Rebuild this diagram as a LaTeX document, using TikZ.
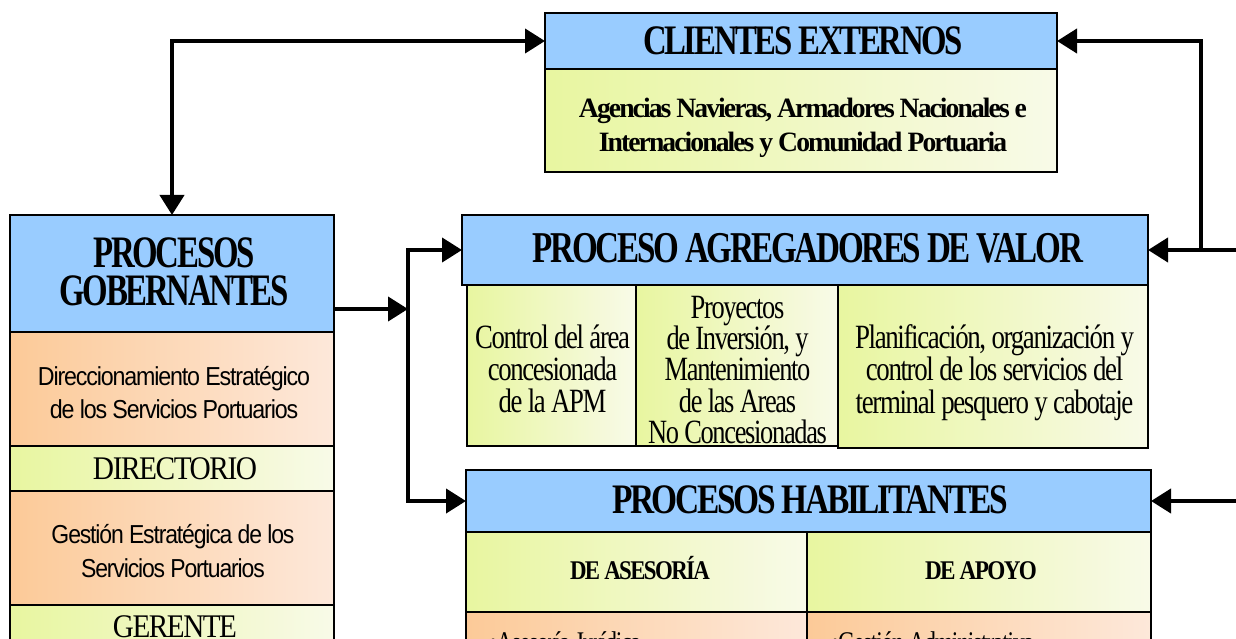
\documentclass[tikz,border=0pt]{standalone}
\usepackage{fontspec}
\usepackage{graphicx}
\setmainfont{Liberation Serif}
\newfontfamily\sansf[LetterSpace=-5]{Liberation Sans}
\newfontfamily\tser[LetterSpace=-5]{Liberation Serif}
\newfontfamily\tserb[LetterSpace=-7]{Liberation Serif}
\usetikzlibrary{arrows.meta,calc}
\definecolor{hblue}{RGB}{153,204,255}
\definecolor{yA}{RGB}{232,246,160}
\definecolor{yB}{RGB}{248,250,232}
\definecolor{oA}{RGB}{252,202,152}
\definecolor{oB}{RGB}{253,232,218}
% fit lines horizontally to a given width, keep height
\newcommand\fl[3]{\resizebox{#1}{\height}{\vbox{\lineskiplimit=-1000pt #2\halign{\hfil##\hfil\cr#3\crcr}}}}
\newcommand\fs[2]{\fontsize{#1}{#2}\selectfont}
\tikzset{
  bx/.style={draw, line width=2.5pt, anchor=north west, inner sep=0pt, outer sep=0pt},
  hdr/.style={bx, fill=hblue},
  yel/.style={bx, left color=yA, right color=yB},
  ora/.style={bx, left color=oA, right color=oB},
  txt/.style={anchor=base, inner sep=0pt, outer sep=0pt, text=black},
  arr/.style={line width=4pt, -{Triangle[length=20pt,width=24pt]}},
  arrb/.style={line width=4pt, {Triangle[length=20pt,width=24pt]}-{Triangle[length=20pt,width=24pt]}},
}
\begin{document}
\begin{tikzpicture}[x=1pt,y=-1pt]
\useasboundingbox (0,0) rectangle (1236,639);
\clip (0,0) rectangle (1236,639);
\fill[white] (0,0) rectangle (1236,639);

% CLIENTES EXTERNOS
\node[yel, minimum width=512pt, minimum height=103pt] (ceB) at (545,69) {};
\node[hdr, minimum width=512pt, minimum height=56pt] (ceH) at (545,13) {};
\node[txt] (tceH) at (803,55) {\fl{320pt}{\tserb\bfseries\fs{42}{42}}{CLIENTES EXTERNOS}};
\node[txt] (tceB) at (803,152) {\fl{448pt}{\tserb\bfseries\fs{28}{34}}{Agencias Navieras, Armadores Nacionales e\cr Internacionales y Comunidad Portuaria}};

% PROCESOS GOBERNANTES
\node[ora, minimum width=324pt, minimum height=114pt] (pg1) at (10,332) {};
\node[yel, minimum width=324pt, minimum height=45pt] (pg2) at (10,446) {};
\node[ora, minimum width=324pt, minimum height=114pt] (pg3) at (10,491) {};
\node[yel, minimum width=324pt, minimum height=80pt] (pg4) at (10,605) {};
\node[hdr, minimum width=324pt, minimum height=117pt] (pgH) at (10,215) {};
\node[txt] (tpgH) at (174,305) {\fl{229pt}{\tserb\bfseries\fs{45}{37}}{PROCESOS\cr GOBERNANTES}};
\node[txt] (tpg1) at (174,418) {\fl{272pt}{\sansf\fs{26}{33}}{Direccionamiento Estratégico\cr de los Servicios Portuarios}};
\node[txt] (tpg2) at (175,479) {\fl{164pt}{\tser\fs{33}{33}}{DIRECTORIO}};
\node[txt] (tpg3) at (173,577) {\fl{243pt}{\sansf\fs{26}{34}}{Gestión Estratégica de los\cr Servicios Portuarios}};
\node[txt] (tpg4) at (175,637) {\fl{124pt}{\tser\fs{33}{33}}{GERENTE}};

% PROCESO AGREGADORES DE VALOR
\node[yel, minimum width=169pt, minimum height=161pt] (pa1) at (467,285) {};
\node[yel, minimum width=202pt, minimum height=161pt] (pa2) at (636,285) {};
\node[yel, minimum width=310pt, minimum height=163pt] (pa3) at (838,285) {};
\node[hdr, minimum width=686pt, minimum height=70pt] (paH) at (462,215) {};
\node[txt] (tpaH) at (808,262) {\fl{550pt}{\tserb\bfseries\fs{44}{44}}{PROCESO AGREGADORES DE VALOR}};
\node[txt] (tpa1) at (552.5,412) {\fl{155pt}{\tser\fs{34}{32}}{Control del área\cr concesionada\cr de la APM}};
\begin{scope}
  \clip (pa2.north west) rectangle (pa2.south east);
  \node[txt] (tpa2) at (737.5,443) {\fl{179pt}{\tser\fs{34}{31}}{Proyectos\cr de Inversión, y\cr Mantenimiento\cr de las Areas\cr No Concesionadas}};
\end{scope}
\draw[line width=2.5pt] (pa2.north west) rectangle (pa2.south east);
\node[txt] (tpa3) at (994.5,413) {\fl{279pt}{\tser\fs{34}{32.5}}{Planificación, organización y\cr control de los servicios del\cr terminal pesquero y cabotaje}};

% PROCESOS HABILITANTES
\node[yel, minimum width=341pt, minimum height=80pt] (ph1) at (466,532) {};
\node[yel, minimum width=344pt, minimum height=80pt] (ph2) at (807,532) {};
\node[ora, minimum width=341pt, minimum height=80pt] (ph3) at (466,612) {};
\node[ora, minimum width=344pt, minimum height=80pt] (ph4) at (807,612) {};
\node[hdr, minimum width=685pt, minimum height=62pt] (phH) at (466,470) {};
\node[txt] (tphH) at (810,513) {\fl{396pt}{\tserb\bfseries\fs{42}{42}}{PROCESOS HABILITANTES}};
\node[txt] (tph1) at (640,579) {\fl{140pt}{\tserb\bfseries\fs{27}{27}}{DE ASESORÍA}};
\node[txt] (tph2) at (981,579) {\fl{112pt}{\tserb\bfseries\fs{27}{27}}{DE APOYO}};
\node[txt, anchor=base west] (tph3) at (489,652) {\fl{152pt}{\tser\fs{30}{30}}{•Asesoría Jurídica}};
\node[txt, anchor=base west] (tph4) at (831,652) {\fl{203pt}{\tser\fs{30}{30}}{•Gestión Administrativa}};

% connectors
\coordinate (j2) at (408,309);
\coordinate (j1) at (1201,250);
\coordinate (r1) at (1260,250);
\coordinate (r2) at (1260,501);
\draw[arrb] (pgH.north) |- (ceH.west);
\draw[arr] (pgH.east |- j2) -- (j2);
\draw[arr] (j2) |- (paH.west);
\draw[arr] (j2) |- (phH.west);
\draw[arr] (r1) -- (paH.east);
\draw[arr] (j1) |- (ceH.east);
\draw[arr] (r2) -- (phH.east);
\end{tikzpicture}
\end{document}
